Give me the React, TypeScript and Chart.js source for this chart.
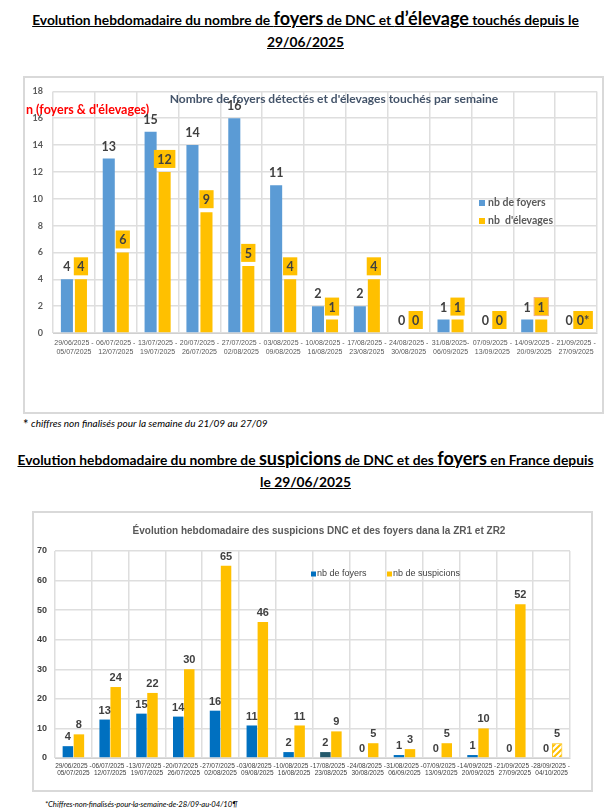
import React, { useEffect, useRef } from "react";
import { Chart, registerables } from "chart.js";
Chart.register(...registerables);

// ---------- Chart 1 data ----------
const weeks1: string[][] = [
  ["29/06/2025 -", "05/07/2025"],
  ["06/07/2025 -", "12/07/2025"],
  ["13/07/2025 -", "19/07/2025"],
  ["20/07/2025 -", "26/07/2025"],
  ["27/07/2025 -", "02/08/2025"],
  ["03/08/2025 -", "09/08/2025"],
  ["10/08/2025 -", "16/08/2025"],
  ["17/08/2025 -", "23/08/2025"],
  ["24/08/2025 -", "30/08/2025"],
  ["31/08/2025-", "06/09/2025"],
  ["07/09/2025 -", "13/09/2025"],
  ["14/09/2025 -", "20/09/2025"],
  ["21/09/2025 -", "27/09/2025"],
];
const foyers1 = [4, 13, 15, 14, 16, 11, 2, 2, 0, 1, 0, 1, 0];
const elevages1 = [4, 6, 12, 9, 5, 4, 1, 4, 0, 1, 0, 1, 0];
const elevageLabels1 = ["4", "6", "12", "9", "5", "4", "1", "4", "0", "1", "0", "1", "0*"];
const yMax1 = 18;
const yStep1 = 2;

// ---------- Chart 2 data ----------
const weeks2: string[][] = [
  ["29/06/2025 -", "05/07/2025"],
  ["06/07/2025 -", "12/07/2025"],
  ["13/07/2025 -", "19/07/2025"],
  ["20/07/2025 -", "26/07/2025"],
  ["27/07/2025 -", "02/08/2025"],
  ["03/08/2025 -", "09/08/2025"],
  ["10/08/2025 -", "16/08/2025"],
  ["17/08/2025 -", "23/08/2025"],
  ["24/08/2025 -", "30/08/2025"],
  ["31/08/2025 -", "06/09/2025"],
  ["07/09/2025 -", "13/09/2025"],
  ["14/09/2025 -", "20/09/2025"],
  ["21/09/2025 -", "27/09/2025"],
  ["28/09/2025 -", "04/10/2025"],
];
const foyers2 = [4, 13, 15, 14, 16, 11, 2, 2, 0, 1, 0, 1, 0, 0];
const suspicions2 = [8, 24, 22, 30, 65, 46, 11, 9, 5, 3, 5, 10, 52, 5];
const yMax2 = 70;
const yStep2 = 10;

const CAL = "Lato, 'Open Sans', sans-serif";
const ARIAL = "'Liberation Sans', Arial, sans-serif";

function makeHatch(): CanvasPattern | string {
  const c = document.createElement("canvas");
  c.width = 6;
  c.height = 6;
  const x = c.getContext("2d");
  if (!x) return "#FFC000";
  x.fillStyle = "#ffffff";
  x.fillRect(0, 0, 6, 6);
  x.strokeStyle = "#FFC000";
  x.lineWidth = 2;
  x.beginPath();
  x.moveTo(0, 6); x.lineTo(6, 0);
  x.moveTo(-3, 3); x.lineTo(3, -3);
  x.moveTo(3, 9); x.lineTo(9, 3);
  x.stroke();
  return x.createPattern(c, "repeat") || "#FFC000";
}

const frame = (bg = "#ffffff", border = "#d9d9d9") => ({
  id: "frame",
  beforeDraw(chart: any) {
    const { ctx, width, height } = chart;
    ctx.save();
    ctx.fillStyle = bg;
    ctx.fillRect(0, 0, width, height);
    ctx.strokeStyle = border;
    ctx.lineWidth = 2;
    ctx.strokeRect(1, 1, width - 2, height - 2);
    ctx.restore();
  },
});

const deco1 = {
  id: "deco1",
  afterDatasetsDraw(chart: any) {
    const ctx = chart.ctx;
    const m0 = chart.getDatasetMeta(0);
    const m1 = chart.getDatasetMeta(1);
    ctx.save();
    // title
    ctx.font = `bold 12px ${CAL}`;
    ctx.fillStyle = "#44546A";
    ctx.textAlign = "center";
    ctx.textBaseline = "middle";
    ctx.fillText("Nombre de foyers détectés et d'élevages touchés par semaine", 311, 23);
    // red axis title
    ctx.font = `bold 12.5px ${CAL}`;
    ctx.fillStyle = "#FF0000";
    ctx.textAlign = "left";
    ctx.fillText("n (foyers & d'élevages)", 3, 34);
    // labels
    ctx.font = `bold 12.5px ${CAL}`;
    ctx.textAlign = "center";
    m0.data.forEach((bar: any, i: number) => {
      ctx.fillStyle = "#404040";
      ctx.fillText(String(foyers1[i]), bar.x, bar.y - 12);
    });
    m1.data.forEach((bar: any, i: number) => {
      const t = elevageLabels1[i];
      const w = ctx.measureText(t).width + 7;
      const h = 18;
      const cy = bar.y - 13;
      ctx.fillStyle = "#FFC000";
      ctx.fillRect(bar.x - w / 2, cy - h / 2, w, h);
      if (i === 11) {
        ctx.strokeStyle = "#F4B183";
        ctx.lineWidth = 1;
        ctx.strokeRect(bar.x - w / 2, cy - h / 2, w, h);
      }
      ctx.fillStyle = "#404040";
      ctx.fillText(t, bar.x, cy + 1);
    });
    // legend
    const items = [
      { c: "#5B9BD5", t: "nb de foyers", y: 127 },
      { c: "#FFC000", t: "nb  d'élevages", y: 145 },
    ];
    ctx.font = `bold 10.5px ${CAL}`;
    ctx.textAlign = "left";
    items.forEach((it) => {
      ctx.fillStyle = it.c;
      ctx.fillRect(456, it.y - 3, 6, 6);
      ctx.fillStyle = "#595959";
      ctx.fillText(it.t, 465, it.y);
    });
    ctx.restore();
  },
};

const deco2 = {
  id: "deco2",
  afterDatasetsDraw(chart: any) {
    const ctx = chart.ctx;
    const m0 = chart.getDatasetMeta(0);
    const m1 = chart.getDatasetMeta(1);
    ctx.save();
    ctx.font = `bold 10px ${ARIAL}`;
    ctx.fillStyle = "#595959";
    ctx.textAlign = "center";
    ctx.textBaseline = "middle";
    ctx.fillText("Évolution hebdomadaire des suspicions DNC et des foyers dana la ZR1 et ZR2", 287, 20);
    ctx.font = `bold 11px ${ARIAL}`;
    ctx.fillStyle = "#404040";
    m0.data.forEach((bar: any, i: number) => {
      ctx.fillText(String(foyers2[i]), bar.x, bar.y - 9);
    });
    m1.data.forEach((bar: any, i: number) => {
      ctx.fillText(String(suspicions2[i]), bar.x, bar.y - 9);
    });
    // legend
    ctx.font = `9px ${ARIAL}`;
    ctx.textAlign = "left";
    const items = [
      { c: "#0070C0", t: "nb de foyers", x: 279 },
      { c: "#FFC000", t: "nb de suspicions", x: 355 },
    ];
    items.forEach((it) => {
      ctx.fillStyle = it.c;
      ctx.fillRect(it.x, 63 - 2.5, 5, 5);
      ctx.fillStyle = "#404040";
      ctx.fillText(it.t, it.x + 6, 63);
    });
    ctx.restore();
  },
};

function config1(): any {
  return {
    type: "bar",
    data: {
      labels: weeks1,
      datasets: [
        { label: "nb de foyers", data: foyers1, backgroundColor: "#5B9BD5", categoryPercentage: 0.67, barPercentage: 0.86 },
        { label: "nb  d'élevages", data: elevages1, backgroundColor: "#FFC000", categoryPercentage: 0.67, barPercentage: 0.86 },
      ],
    },
    options: {
      animation: false,
      responsive: false,
      devicePixelRatio: 1,
      layout: { padding: { top: 8, right: 7, bottom: 41, left: 0 } },
      plugins: { legend: { display: false }, tooltip: { enabled: false } },
      scales: {
        x: {
          grid: { color: "#dedede", lineWidth: 1.5, drawTicks: false },
          border: { color: "#d0d0d0" },
          ticks: { font: { size: 7, family: ARIAL }, color: "#595959", maxRotation: 0, minRotation: 0, autoSkip: false, padding: 6 },
          afterFit: (s: any) => { s.height = 40; },
        },
        y: {
          min: 0,
          max: yMax1,
          ticks: { stepSize: yStep1, font: { size: 9, weight: "bold", family: CAL }, color: "#595959", padding: 10 },
          grid: { color: "#dedede", lineWidth: 1.5, drawTicks: false },
          border: { display: false },
          afterFit: (s: any) => { s.width = 30; },
        },
      },
    },
    plugins: [frame(), deco1],
  };
}

function config2(): any {
  const hatch = makeHatch();
  const susColors = suspicions2.map((_, i) => (i === suspicions2.length - 1 ? hatch : "#FFC000"));
  const susBorder = suspicions2.map((_, i) => (i === suspicions2.length - 1 ? 1 : 0));
  const foyColors = foyers2.map((_, i) => (i === 7 ? "#24596B" : "#0070C0"));
  return {
    type: "bar",
    data: {
      labels: weeks2,
      datasets: [
        { label: "nb de foyers", data: foyers2, backgroundColor: foyColors, categoryPercentage: 0.6, barPercentage: 0.95 },
        { label: "nb de suspicions", data: suspicions2, backgroundColor: susColors, borderColor: "#FFC000", borderWidth: susBorder, categoryPercentage: 0.6, barPercentage: 0.95 },
      ],
    },
    options: {
      animation: false,
      responsive: false,
      devicePixelRatio: 1,
      layout: { padding: { top: 40, right: 23, bottom: 12, left: 0 } },
      plugins: { legend: { display: false }, tooltip: { enabled: false } },
      scales: {
        x: {
          grid: { color: "#dedede", lineWidth: 1.5, drawTicks: false },
          border: { color: "#d0d0d0" },
          ticks: { font: { size: 6.5, family: ARIAL }, color: "#404040", maxRotation: 0, minRotation: 0, autoSkip: false, padding: 4 },
          afterFit: (s: any) => { s.height = 22; },
        },
        y: {
          min: 0,
          max: yMax2,
          ticks: { stepSize: yStep2, font: { size: 9, weight: "bold", family: ARIAL }, color: "#404040", padding: 8 },
          grid: { color: "#dedede", lineWidth: 1.5, drawTicks: false },
          border: { display: false },
          afterFit: (s: any) => { s.width = 23; },
        },
      },
    },
    plugins: [frame("#ffffff", "#d9d9d9"), deco2],
  };
}

function ChartCanvas(props: { make: () => any; left: number; top: number; width: number; height: number }) {
  const ref = useRef<HTMLCanvasElement | null>(null);
  useEffect(() => {
    if (!ref.current) return;
    const ch = new Chart(ref.current, props.make());
    return () => ch.destroy();
  }, []);
  return (
    <canvas
      ref={ref}
      width={props.width}
      height={props.height}
      style={{ position: "absolute", left: props.left, top: props.top, width: props.width, height: props.height }}
    />
  );
}

export default function App() {
  const big = { fontSize: 18 };
  return (
    <div style={{ position: "absolute", left: 0, top: 0, width: 611, height: 811, background: "#fff", overflow: "hidden" }}>
      <div
        style={{
          position: "absolute", left: 0, top: 7, width: 611, textAlign: "center",
          fontFamily: CAL, fontWeight: "bold", fontSize: 13.8, lineHeight: "22px",
          textDecoration: "underline", color: "#000",
        }}
      >
        Evolution hebdomadaire du nombre de <span style={big}>foyers</span> de DNC et <span style={big}>d’élevage</span> touchés depuis le
        <br />
        29/06/2025
      </div>
      <ChartCanvas make={config1} left={23} top={76} width={581} height={338} />
      <div style={{ position: "absolute", left: 23, top: 416, fontFamily: CAL, fontSize: 10, color: "#000", whiteSpace: "nowrap" }}>
        <span style={{ fontSize: 13, verticalAlign: "-2px" }}>*</span> <i>chiffres non finalisés pour la semaine du 21/09 au 27/09</i>
      </div>
      <div
        style={{
          position: "absolute", left: 0, top: 447, width: 611, textAlign: "center",
          fontFamily: CAL, fontWeight: "bold", fontSize: 13.8, lineHeight: "22px",
          textDecoration: "underline", color: "#000",
        }}
      >
        Evolution hebdomadaire du nombre de <span style={big}>suspicions</span> de DNC et des <span style={big}>foyers</span> en France depuis
        <br />
        le 29/06/2025
      </div>
      <ChartCanvas make={config2} left={32} top={511} width={561} height={281} />
      <div style={{ position: "absolute", left: 45, top: 799, fontFamily: CAL, fontSize: 7.7, fontStyle: "italic", color: "#000", whiteSpace: "nowrap" }}>
        *Chiffres·non·finalisés·pour·la·semaine·de·28/09·au·04/10¶
      </div>
    </div>
  );
}
